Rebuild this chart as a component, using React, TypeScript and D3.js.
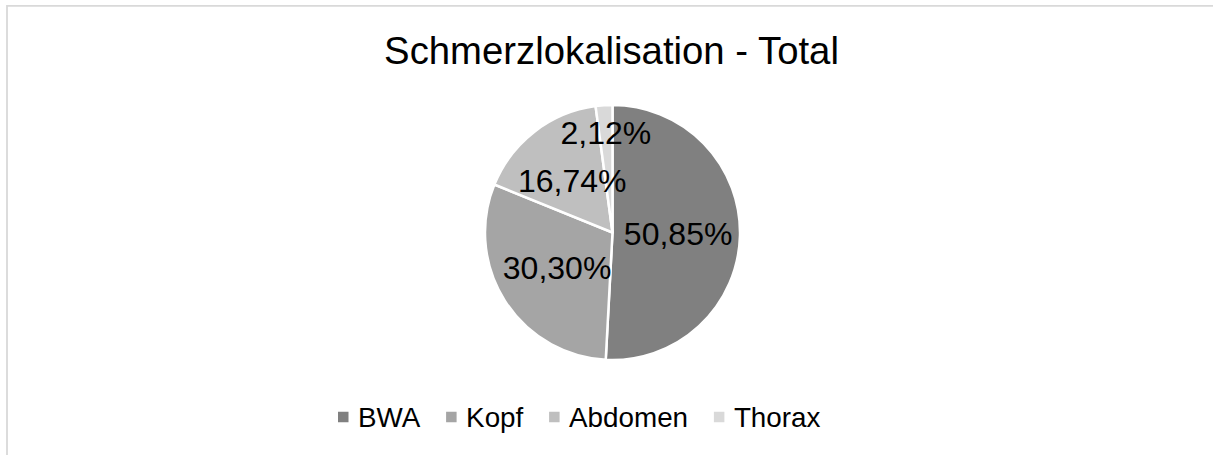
import React, { useEffect, useRef } from "react";
import * as d3 from "d3";

const categories = ["BWA", "Kopf", "Abdomen", "Thorax"];
const values = [50.85, 30.3, 16.74, 2.12];
const labels = ["50,85%", "30,30%", "16,74%", "2,12%"];
const colors = ["#808080", "#a5a5a5", "#bfbfbf", "#d9d9d9"];
const title = "Schmerzlokalisation - Total";

const W = 1213;
const H = 455;
const FONT = "'Liberation Sans', Arial, sans-serif";

export default function App() {
  const ref = useRef<SVGSVGElement | null>(null);

  useEffect(() => {
    const svg = d3.select(ref.current);
    svg.selectAll("*").remove();

    svg
      .append("rect")
      .attr("x", 0)
      .attr("y", 0)
      .attr("width", W)
      .attr("height", H)
      .attr("fill", "#fff");

    svg
      .append("path")
      .attr("d", `M7,${H + 10}V5.9H${W + 10}`)
      .attr("fill", "none")
      .attr("stroke", "#d9d9d9")
      .attr("stroke-width", 1.8);

    svg
      .append("text")
      .attr("x", 611.5)
      .attr("y", 63.5)
      .attr("text-anchor", "middle")
      .attr("font-family", FONT)
      .attr("font-size", 38.3)
      .attr("fill", "#000")
      .text(title);

    const cx = 612.5;
    const cy = 232.5;
    const r = 127.5;

    const pie = d3
      .pie<number>()
      .sort(null)
      .value((d) => d)
      .startAngle(0)
      .endAngle(2 * Math.PI);
    const arcs = pie(values);
    const arc = d3.arc<d3.PieArcDatum<number>>().innerRadius(0).outerRadius(r);

    const g = svg.append("g").attr("transform", `translate(${cx},${cy})`);
    g.selectAll("path")
      .data(arcs)
      .join("path")
      .attr("d", arc)
      .attr("fill", (_, i) => colors[i])
      .attr("stroke", "#fff")
      .attr("stroke-width", 2.5)
      .attr("stroke-linejoin", "round");

    g.selectAll("text.lbl")
      .data(arcs)
      .join("text")
      .attr("class", "lbl")
      .attr("transform", (d) => {
        const share = (d.endAngle - d.startAngle) / (2 * Math.PI);
        const lr = share < 0.05 ? r * 0.785 : r * 0.515;
        const a = (d.startAngle + d.endAngle) / 2;
        return `translate(${Math.sin(a) * lr},${-Math.cos(a) * lr})`;
      })
      .attr("dy", "0.35em")
      .attr("text-anchor", "middle")
      .attr("font-family", FONT)
      .attr("font-size", 32)
      .attr("fill", "#000")
      .text((_, i) => labels[i]);

    // legend
    const leg = svg.append("g");
    let x = 338;
    const sq = 10.5;
    const ly = 417;
    categories.forEach((c, i) => {
      leg
        .append("rect")
        .attr("x", x)
        .attr("y", ly - sq / 2)
        .attr("width", sq)
        .attr("height", sq)
        .attr("fill", colors[i]);
      const t = leg
        .append("text")
        .attr("x", x + sq + 9.5)
        .attr("y", ly + 10)
        .attr("font-family", FONT)
        .attr("font-size", 27.8)
        .attr("fill", "#000")
        .text(c);
      const w = (t.node() as SVGTextElement).getComputedTextLength();
      x = x + sq + 9.5 + w + 25.8;
    });
  }, []);

  return (
    <svg
      ref={ref}
      width={W}
      height={H}
      style={{ position: "absolute", left: 0, top: 0, display: "block" }}
    />
  );
}
